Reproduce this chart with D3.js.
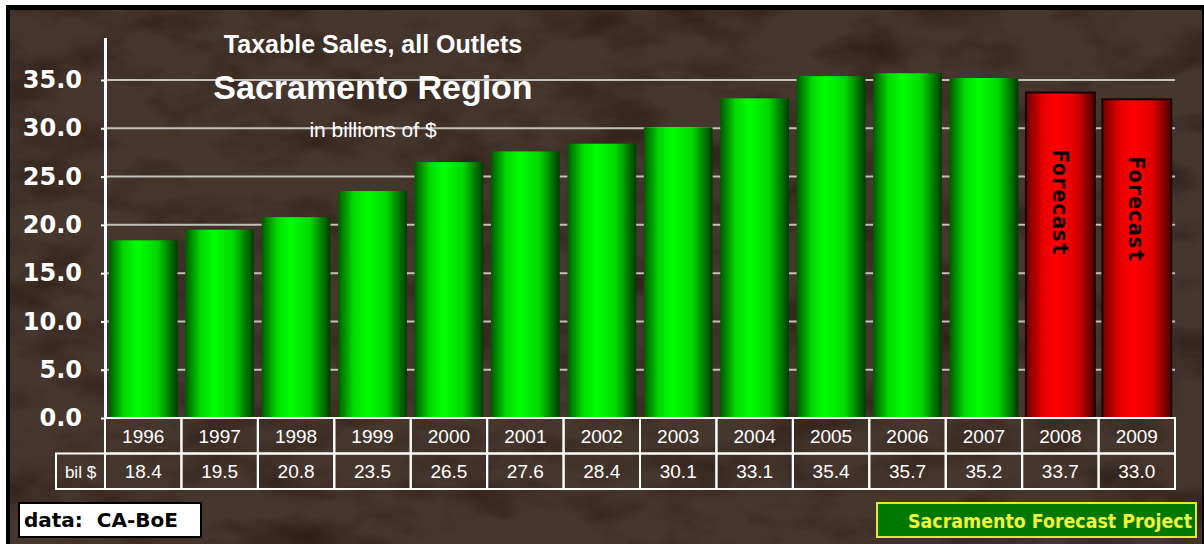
<!DOCTYPE html>
<html>
<head>
<meta charset="utf-8">
<script src="https://cdn.jsdelivr.net/npm/d3@7"></script>
<style>
  body { margin: 0; background: #fff; }
  svg { display: block; }
</style>
</head>
<body>
<svg id="chart"></svg>
<script>
// Chart data
var years = ["1996", "1997", "1998", "1999", "2000", "2001", "2002", "2003", "2004", "2005", "2006", "2007", "2008", "2009"];
var sales = [18.4, 19.5, 20.8, 23.5, 26.5, 27.6, 28.4, 30.1, 33.1, 35.4, 35.7, 35.2, 33.7, 33.0];
var forecastYears = ["2008", "2009"];
var yTicks = [0, 5, 10, 15, 20, 25, 30, 35];

// Size of the picture
var svgWidth = 1204;
var svgHeight = 544;

var svg = d3.select("#chart")
    .attr("width", svgWidth)
    .attr("height", svgHeight);

var defs = svg.append("defs");

// Mottled texture laid over the brown background
var noise = defs.append("filter").attr("id", "noise")
    .attr("x", 0).attr("y", 0).attr("width", "100%").attr("height", "100%")
    .attr("color-interpolation-filters", "sRGB");
noise.append("feTurbulence")
    .attr("type", "fractalNoise")
    .attr("baseFrequency", "0.012 0.025")
    .attr("numOctaves", 4)
    .attr("seed", 7);
noise.append("feColorMatrix")
    .attr("type", "matrix")
    .attr("values", "0 0 0 0 0.12  0 0 0 0 0.06  0 0 0 0 0.03  2.2 0 0 0 -1.0");

// Cylinder like gradients for bars
function barGradient(id, stops) {
    var g = defs.append("linearGradient").attr("id", id)
        .attr("x1", 0).attr("x2", 1).attr("y1", 0).attr("y2", 0);
    stops.forEach(function (s) {
        g.append("stop").attr("offset", s[0]).attr("stop-color", s[1]);
    });
}
barGradient("green", [[0, "#005800"], [0.22, "#00d800"], [0.42, "#00ff00"], [0.7, "#00d800"], [1, "#003c00"]]);
barGradient("red", [[0, "#700000"], [0.25, "#e80000"], [0.45, "#ff0000"], [0.72, "#e00000"], [1, "#500000"]]);

// Frame
svg.append("rect")
    .attr("x", 6).attr("y", 5)
    .attr("width", svgWidth - 6).attr("height", svgHeight - 5)
    .attr("fill", "#000");
svg.append("rect")
    .attr("x", 10).attr("y", 10)
    .attr("width", svgWidth - 12).attr("height", svgHeight - 10)
    .attr("fill", "#45362e");
svg.append("rect")
    .attr("x", 10).attr("y", 10)
    .attr("width", svgWidth - 12).attr("height", svgHeight - 10)
    .attr("fill", "#fff")
    .attr("opacity", 0.6)
    .attr("filter", "url(#noise)");

// Scales
var x = d3.scaleBand()
    .domain(years)
    .range([105, 1175])
    .paddingInner(0.1)
    .paddingOuter(0.05);

var y = d3.scaleLinear()
    .domain([0, 39.4])
    .range([418, 37.5]);

// Grid lines
svg.append("g")
    .selectAll("line")
    .data(yTicks.filter(function (d) { return d > 0; }))
    .enter()
    .append("line")
        .attr("x1", 107)
        .attr("x2", 1175)
        .attr("y1", function (d) { return y(d); })
        .attr("y2", function (d) { return y(d); })
        .attr("stroke", "#c4c0bc")
        .attr("stroke-width", 2);

// Titles
var titleX = 373;
svg.append("text")
    .attr("x", titleX).attr("y", 53)
    .attr("text-anchor", "middle")
    .attr("fill", "#fff")
    .style("font", "bold 25px 'Liberation Sans', Arial, sans-serif")
    .text("Taxable Sales, all Outlets");
svg.append("text")
    .attr("x", titleX).attr("y", 99)
    .attr("text-anchor", "middle")
    .attr("fill", "#fff")
    .style("font", "bold 34px 'Liberation Sans', Arial, sans-serif")
    .text("Sacramento Region");
svg.append("text")
    .attr("x", titleX).attr("y", 137)
    .attr("text-anchor", "middle")
    .attr("fill", "#fff")
    .style("font", "21px 'Liberation Sans', Arial, sans-serif")
    .text("in billions of $");

// Bars
svg.append("g")
    .selectAll("rect")
    .data(years)
    .enter()
    .append("rect")
        .attr("x", function (d) { return x(d); })
        .attr("width", x.bandwidth())
        .attr("y", function (d, i) { return y(sales[i]); })
        .attr("height", function (d, i) { return y(0) - y(sales[i]); })
        .attr("fill", function (d) {
            return forecastYears.indexOf(d) >= 0 ? "url(#red)" : "url(#green)";
        })
        .attr("stroke", function (d) {
            return forecastYears.indexOf(d) >= 0 ? "#1a0000" : "none";
        })
        .attr("stroke-width", 2);

// Forecast labels inside red bars
svg.append("g")
    .selectAll("text")
    .data(forecastYears)
    .enter()
    .append("text")
        .attr("transform", function (d) {
            var i = years.indexOf(d);
            var cx = x(d) + x.bandwidth() / 2;
            var cy = y(sales[i]) + 110;
            return "translate(" + cx + "," + cy + ") rotate(90)";
        })
        .attr("text-anchor", "middle")
        .attr("dy", "0.35em")
        .attr("fill", "#000")
        .style("font", "bold 22px 'DejaVu Sans Mono', monospace")
        .text("Forecast");

// Y axis
var yAxis = d3.axisLeft(y)
    .tickValues(yTicks)
    .tickFormat(d3.format(".1f"))
    .tickSize(4)
    .tickSizeOuter(0)
    .tickPadding(19);

var axisG = svg.append("g")
    .attr("transform", "translate(105,0)")
    .call(yAxis);
axisG.select(".domain").attr("stroke", "#fff").attr("stroke-width", 3);
axisG.selectAll(".tick line").attr("stroke", "#fff").attr("stroke-width", 2);
axisG.selectAll(".tick text")
    .attr("fill", "#fff")
    .style("font", "bold 24px 'DejaVu Sans', Verdana, sans-serif");

// Data table under the chart
var row1Top = 418, rowH = 35.5;
var table = svg.append("g")
    .attr("stroke", "#fff")
    .attr("stroke-width", 2)
    .attr("fill", "none");

table.selectAll("rect.year")
    .data(years)
    .enter()
    .append("rect")
        .attr("class", "year")
        .attr("x", function (d) { return x(d) - x.step() * x.paddingInner() / 2; })
        .attr("y", row1Top)
        .attr("width", x.step())
        .attr("height", rowH);

table.selectAll("rect.val")
    .data(years)
    .enter()
    .append("rect")
        .attr("class", "val")
        .attr("x", function (d) { return x(d) - x.step() * x.paddingInner() / 2; })
        .attr("y", row1Top + rowH)
        .attr("width", x.step())
        .attr("height", rowH);

table.append("rect")
    .attr("x", 56)
    .attr("y", row1Top + rowH)
    .attr("width", 105 - 56)
    .attr("height", rowH);

var cellFont = "19px 'Liberation Sans', Arial, sans-serif";

svg.append("g")
    .selectAll("text")
    .data(years)
    .enter()
    .append("text")
        .attr("x", function (d) { return x(d) + x.bandwidth() / 2; })
        .attr("y", row1Top + rowH / 2 + 7)
        .attr("text-anchor", "middle")
        .attr("fill", "#fff")
        .style("font", cellFont)
        .text(function (d) { return d; });

svg.append("g")
    .selectAll("text")
    .data(sales)
    .enter()
    .append("text")
        .attr("x", function (d, i) { return x(years[i]) + x.bandwidth() / 2; })
        .attr("y", row1Top + rowH * 1.5 + 7)
        .attr("text-anchor", "middle")
        .attr("fill", "#fff")
        .style("font", cellFont)
        .text(function (d) { return d3.format(".1f")(d); });

svg.append("text")
    .attr("x", 80.5)
    .attr("y", row1Top + rowH * 1.5 + 7)
    .attr("text-anchor", "middle")
    .attr("fill", "#fff")
    .style("font", "17px 'Liberation Sans', Arial, sans-serif")
    .text("bil $");

// Source box
svg.append("rect")
    .attr("x", 19).attr("y", 503)
    .attr("width", 182).attr("height", 34)
    .attr("fill", "#fff")
    .attr("stroke", "#000")
    .attr("stroke-width", 2);
svg.append("text")
    .attr("x", 24).attr("y", 527)
    .attr("fill", "#000")
    .style("font", "bold 20px 'DejaVu Sans', Verdana, sans-serif")
    .attr("xml:space", "preserve")
    .text("data:  CA-BoE");

// Project box
svg.append("rect")
    .attr("x", 877).attr("y", 503)
    .attr("width", 319).attr("height", 34)
    .attr("fill", "#007800")
    .attr("stroke", "#e6e633")
    .attr("stroke-width", 2);
svg.append("text")
    .attr("x", 908).attr("y", 528)
    .attr("fill", "#f2f53a")
    .attr("textLength", 284)
    .attr("lengthAdjust", "spacingAndGlyphs")
    .style("font", "bold 19px 'DejaVu Sans Condensed', 'DejaVu Sans', sans-serif")
    .text("Sacramento Forecast Project");
</script>
</body>
</html>
